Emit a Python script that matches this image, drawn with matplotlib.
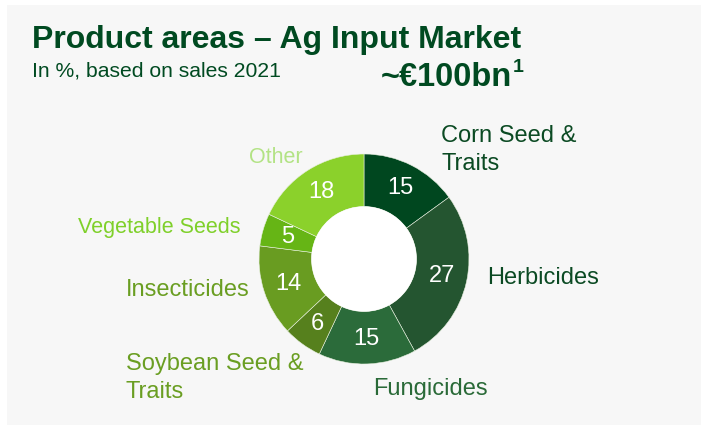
import matplotlib.pyplot as plt
import numpy as np
from matplotlib.patches import Circle

plt.rcParams['font.family'] = ['Liberation Sans', 'DejaVu Sans']

segments = ['Corn Seed &\nTraits', 'Herbicides', 'Fungicides', 'Soybean Seed &\nTraits',
            'Insecticides', 'Vegetable Seeds', 'Other']
shares = [15, 27, 15, 6, 14, 5, 18]
colors = ['#00471f', '#245530', '#2b6b3a', '#56801d', '#699c21', '#66b515', '#8bd12b']
label_colors = ['#0b4a23', '#0b4a23', '#2a6a38', '#6a9e22', '#6a9e22', '#7fd02a', '#b3e385']
label_sizes = [17, 17, 17, 17, 17, 15.5, 15.5]

W, H = 701, 430
fig = plt.figure(figsize=(W / 100, H / 100), dpi=100)
fig.patch.set_facecolor('white')
bg = fig.add_axes([7 / W, 5 / H, 694 / W, 420 / H], zorder=-5)
bg.set_facecolor('#f7f7f7')
bg.set_xticks([])
bg.set_yticks([])
for s in bg.spines.values():
    s.set_visible(False)

dark = '#004a21'
fig.text(32 / W, 1 - 40 / H, 'Product areas – Ag Input Market', fontsize=23,
         fontweight='bold', color=dark, va='center', ha='left')
fig.text(32 / W, 1 - 71 / H, 'In %, based on sales 2021', fontsize=15.2,
         color=dark, va='center', ha='left')
fig.text(381 / W, 1 - 77 / H, '~€100bn', fontsize=23.5,
         fontweight='bold', color=dark, va='center', ha='left')
fig.text(513 / W, 1 - 68 / H, '1', fontsize=14,
         fontweight='bold', color=dark, va='center', ha='left')

# donut
cx, cy, r = 364, H - 259, 105
ax = fig.add_axes([(cx - r) / W, (cy - r) / H, 2 * r / W, 2 * r / H])
ax.set_facecolor('none')
wedges, _ = ax.pie(shares, colors=colors, startangle=90, counterclock=False, radius=1,
                   wedgeprops=dict(width=0.5, edgecolor='#e8f0e0', linewidth=0.4))
ax.add_patch(Circle((0, 0), 0.5, facecolor='white', edgecolor='none', zorder=3))
ax.set_xlim(-1, 1)
ax.set_ylim(-1, 1)
ax.set_aspect('equal')
ax.axis('off')

theta = 90.0
for val in shares:
    mid = np.deg2rad(theta - val * 3.6 / 2)
    ax.text(0.76 * np.cos(mid), 0.76 * np.sin(mid), str(val), color='white',
            fontsize=17, ha='center', va='center', zorder=4)
    theta -= val * 3.6

# outside labels (pixel positions of the reference)
label_pos = [(441, 150), (487, 278), (373, 389), (126, 378), (126, 290), (78, 228), (249, 157)]
for name, (x, y), c, fs in zip(segments, label_pos, label_colors, label_sizes):
    fig.text(x / W, 1 - y / H, name, color=c, fontsize=fs, ha='left', va='center',
             linespacing=1.3)

fig.savefig('out.png', dpi=100)
